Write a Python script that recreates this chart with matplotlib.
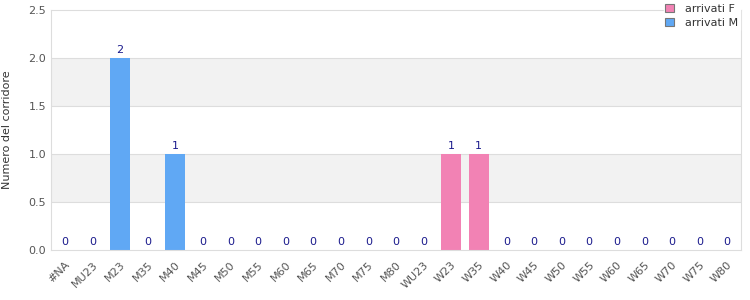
import matplotlib
matplotlib.use("Agg")
import matplotlib.pyplot as plt
import numpy as np

categories = ["#NA", "MU23", "M23", "M35", "M40", "M45", "M50", "M55", "M60", "M65",
              "M70", "M75", "M80", "WU23", "W23", "W35", "W40", "W45", "W50", "W55",
              "W60", "W65", "W70", "W75", "W80"]
arrivati_f = [0, 0, 0, 0, 0, 0, 0, 0, 0, 0, 0, 0, 0, 0, 1, 1, 0, 0, 0, 0, 0, 0, 0, 0, 0]
arrivati_m = [0, 0, 2, 0, 1, 0, 0, 0, 0, 0, 0, 0, 0, 0, 0, 0, 0, 0, 0, 0, 0, 0, 0, 0, 0]

PINK = "#f282b4"
BLUE = "#60a8f4"

fig = plt.figure(figsize=(7.5, 3), dpi=100)
ax = fig.add_axes([0.068, 0.167, 0.92, 0.8])

x = np.arange(len(categories))
f = np.array(arrivati_f)
m = np.array(arrivati_m)

# alternating grey bands
for lo in (0.5, 1.5):
    ax.axhspan(lo, lo + 0.5, color="#f2f2f2", zorder=0, lw=0)
for y in (0.5, 1.0, 1.5, 2.0):
    ax.axhline(y, color="#dddddd", lw=0.8, zorder=0.5)

ax.bar(x, f, width=0.72, color=PINK, label="arrivati F", zorder=2)
ax.bar(x, m, width=0.72, bottom=f, color=BLUE, label="arrivati M", zorder=2)

for xi, tot in zip(x, f + m):
    ax.text(xi, tot + 0.03, str(tot), ha="center", va="bottom", fontsize=8,
            color="#1a1a8c", zorder=3)

ax.set_xlim(-0.5, len(categories) - 0.5)
ax.set_ylim(0, 2.5)
ax.set_yticks([0, 0.5, 1.0, 1.5, 2.0, 2.5])
ax.set_yticklabels(["0.0", "0.5", "1.0", "1.5", "2.0", "2.5"])
ax.set_xticks(x)
ax.set_xticklabels(categories, rotation=45, ha="right", rotation_mode="anchor")
ax.tick_params(length=0, labelsize=8, colors="#555555")
ax.tick_params(axis="x", pad=7)
ax.set_ylabel("Numero del corridore", fontsize=8, color="#333333", labelpad=12)
for s in ax.spines.values():
    s.set_color("#dddddd")

leg = fig.legend(loc="upper right", bbox_to_anchor=(0.99, 1.0), fontsize=8,
                 frameon=True, fancybox=False, edgecolor="white", framealpha=1,
                 handlelength=0.8, handleheight=0.8, handletextpad=1.0,
                 borderpad=0.15, labelspacing=0.35, borderaxespad=0.2)
for t in leg.get_texts():
    t.set_color("#333333")
for h in leg.legend_handles:
    h.set_edgecolor("#777777")
    h.set_linewidth(0.8)

fig.savefig("out.png", dpi=100)
